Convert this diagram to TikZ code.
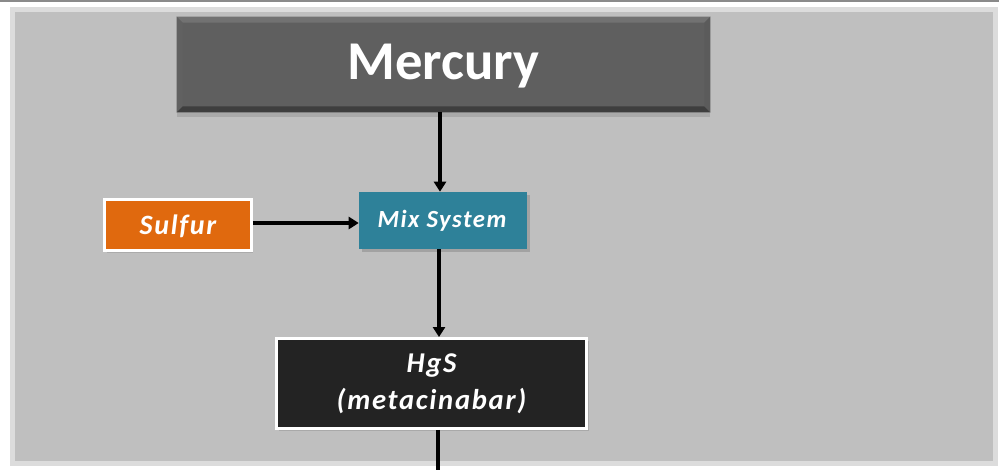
\documentclass[tikz,border=0pt]{standalone}
\usepackage{fontspec}
\setmainfont{Carlito}
\newfontfamily\spacedfont[LetterSpace=6]{Carlito}
\usetikzlibrary{arrows.meta,shadows,calc}
\definecolor{bggray}{HTML}{BFBFBF}
\definecolor{framegray}{HTML}{DCDCDC}
\definecolor{topline}{HTML}{8A8A8A}
\definecolor{mercfill}{HTML}{5F5F5F}
\definecolor{mercdark}{HTML}{3E3E3E}
\definecolor{merclight}{HTML}{727272}
\definecolor{sulforange}{HTML}{E0690E}
\definecolor{mixteal}{HTML}{2E8199}
\definecolor{hgsfill}{HTML}{232323}
\tikzset{
  boxbase/.style={rectangle, inner sep=0pt, align=center, text=white},
  mercbox/.style={boxbase, fill=mercfill, minimum width=399.75pt, minimum height=71.25pt,
     drop shadow={opacity=0.35, shadow xshift=0pt, shadow yshift=-4pt}},
  sulfbox/.style={boxbase, fill=sulforange, draw=white, line width=2.2pt, minimum width=110pt, minimum height=38.5pt,
     drop shadow={opacity=0.3, shadow xshift=1.5pt, shadow yshift=-1.5pt}},
  mixbox/.style={boxbase, fill=mixteal, minimum width=126pt, minimum height=42.75pt,
     drop shadow={opacity=0.45, shadow xshift=2.5pt, shadow yshift=-2.5pt}},
  hgsbox/.style={boxbase, fill=hgsfill, draw=white, line width=2.2pt, minimum width=232.5pt, minimum height=67.5pt,
     drop shadow={opacity=0.35, shadow xshift=1.5pt, shadow yshift=-1.5pt}},
  flow/.style={line width=2.8pt, black, -{Triangle[length=7.5pt,width=9pt]}},
  flowplain/.style={line width=2.8pt, black},
}
\begin{document}
\begin{tikzpicture}[x=0.75pt,y=-0.75pt]
\useasboundingbox (0,0) rectangle (999,469);
\fill[white] (0,0) rectangle (999,469);
\fill[topline] (0,0) rectangle (999,2);
\fill[framegray] (10,7) rectangle (998,466);
\fill[bggray] (15,12) rectangle (993,461);

\node[mercbox] (Mercury) at (443.5,64.5) {};
% bevel
\fill[merclight] (Mercury.north west) -- (Mercury.north east) -- ++(-6,6) -- ($(Mercury.north west)+(6,6)$) -- cycle;
\fill[merclight!85!black] (Mercury.north west) -- ($(Mercury.north west)+(6,6)$) -- ($(Mercury.south west)+(6,-6)$) -- (Mercury.south west) -- cycle;
\fill[mercdark] (Mercury.south west) -- ($(Mercury.south west)+(6,-6)$) -- ($(Mercury.south east)+(-6,-6)$) -- (Mercury.south east) -- cycle;
\fill[mercdark!85!white] (Mercury.north east) -- (Mercury.south east) -- ($(Mercury.south east)+(-6,-6)$) -- ($(Mercury.north east)+(-6,6)$) -- cycle;
\node[text=white, font=\fontsize{41}{48}\selectfont\bfseries] (MercuryText) at (443.5,66) {Mercury};

\node[sulfbox] (Sulfur) at (178,225) {};
\node[text=white, font=\spacedfont\fontsize{21}{24}\selectfont\bfseries\itshape] (SulfurText) at (178,226) {Sulfur};

\node[mixbox] (Mix) at (443,220.5) {};
\node[text=white, font=\spacedfont\fontsize{18.5}{22}\selectfont\bfseries\itshape] (MixText) at (442,221) {Mix System};

\node[hgsbox] (HgS) at (431.5,383.5) {};
\node[text=white, align=center, font=\spacedfont\fontsize{21.5}{28}\selectfont\bfseries\itshape] (HgSText) at (431.5,384) {HgS\\(metacinabar)};

\coordinate (Out) at (438,475);

\draw[flow] (Mercury.south -| 440,0) -- (Mix.north -| 440,0);
\draw[flow] (Sulfur.east |- 0,223) -- (Mix.west |- 0,223);
\draw[flow] (Mix.south -| 439,0) -- (HgS.north -| 439,0);
\draw[flowplain] (HgS.south -| Out) -- (Out);
\end{tikzpicture}
\end{document}
